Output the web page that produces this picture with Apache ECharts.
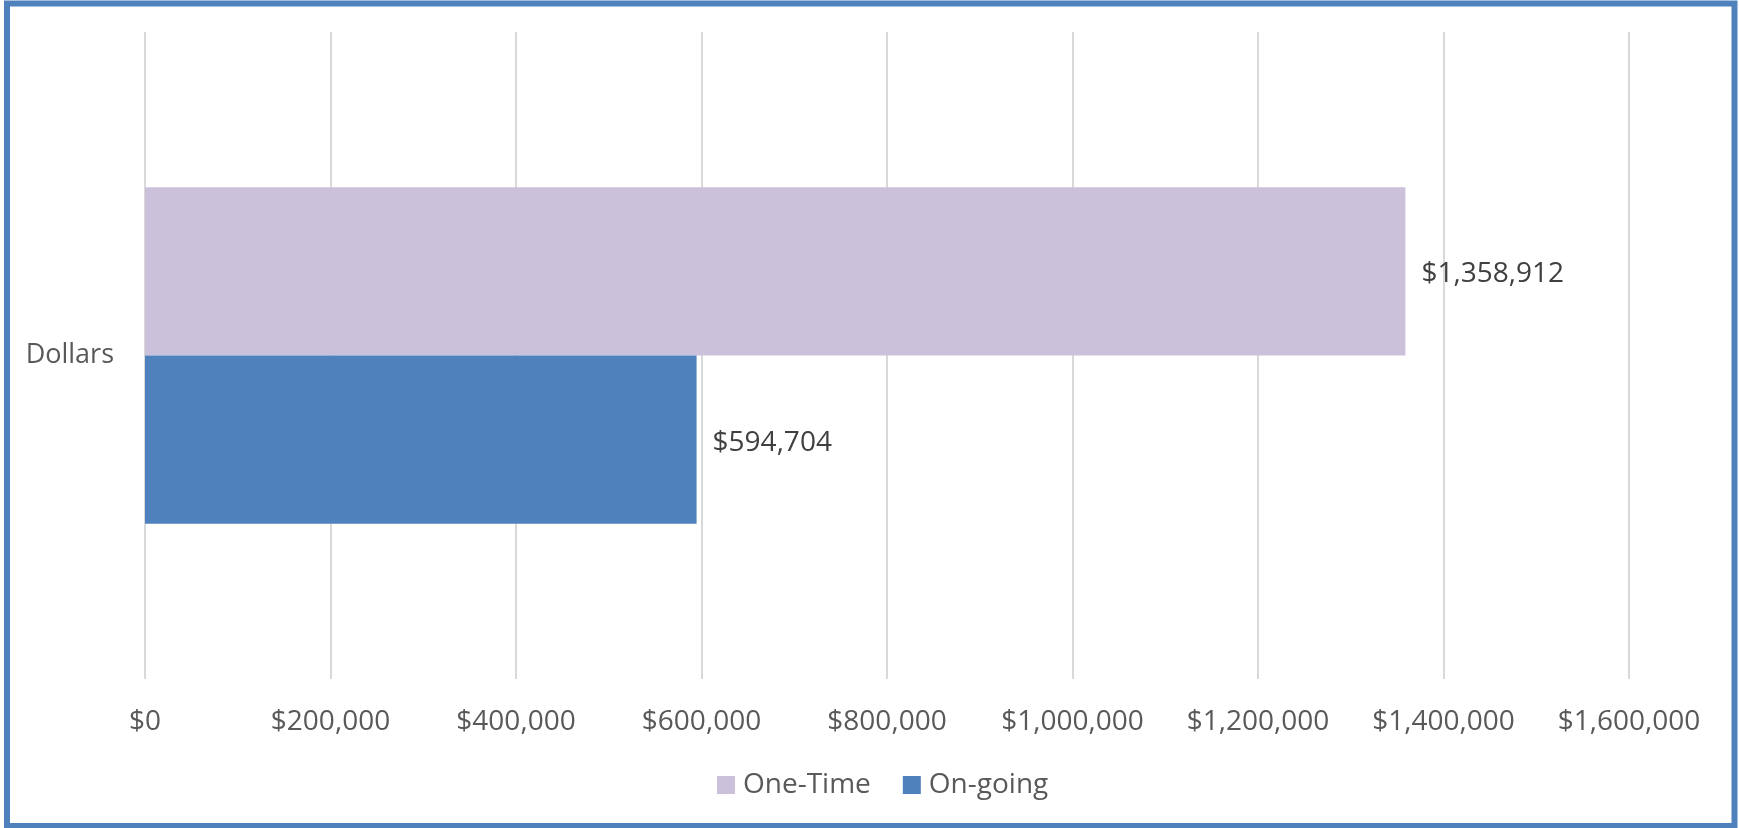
<!DOCTYPE html>
<html>
<head>
<meta charset="utf-8">
<style>
  html, body { margin: 0; padding: 0; background: #fff; }
  #main { width: 1739px; height: 828px; }
</style>
<script src="https://cdn.jsdelivr.net/npm/echarts@6/dist/echarts.min.js"></script>
</head>
<body>
<div id="main"></div>
<script>
var categories = ['Dollars'];
var oneTime = [1358912];
var onGoing = [594704];
var xTicks = { min: 0, max: 1600000, interval: 200000 };

var FONT = 'Open Sans';
var FS = 28;

function money(v) {
  return '$' + Number(v).toLocaleString('en-US');
}

var chart = echarts.init(document.getElementById('main'));
var option = {
  animation: false,
  backgroundColor: '#fff',
  graphic: [{
    type: 'rect',
    shape: { x: 7, y: 3.5, width: 1727.5, height: 822.5 },
    style: { fill: 'none', stroke: '#4F81BD', lineWidth: 6 },
    silent: true
  }],
  grid: { left: 145, right: 110, top: 32, bottom: 149, containLabel: false },
  legend: {
    data: ['One-Time', 'On-going'],
    left: 712,
    top: 766,
    itemWidth: 18,
    itemHeight: 18,
    itemGap: 32,
    icon: 'rect',
    textStyle: { color: '#595959', fontSize: FS, fontFamily: FONT, padding: [0, 0, 0, 3] }
  },
  xAxis: {
    type: 'value',
    min: xTicks.min,
    max: xTicks.max,
    interval: xTicks.interval,
    axisLine: { show: false },
    axisTick: { show: false },
    splitLine: { lineStyle: { color: '#D9D9D9', width: 2 } },
    axisLabel: {
      color: '#595959',
      fontSize: FS,
      fontFamily: FONT,
      margin: 29,
      formatter: money
    }
  },
  yAxis: {
    type: 'category',
    data: categories,
    axisLine: { show: false },
    axisTick: { show: false },
    axisLabel: { color: '#595959', fontSize: 27, fontFamily: FONT, margin: 31 }
  },
  series: [{
    name: 'One-Time',
    type: 'bar',
    data: oneTime,
    barGap: '0%',
    barCategoryGap: '48%',
    itemStyle: { color: '#CCC1DA' },
    label: {
      show: true, position: 'right', distance: 16, offset: [0, 3],
      color: '#404040', fontSize: FS, fontFamily: FONT,
      formatter: function (p) { return money(p.value); }
    }
  }, {
    name: 'On-going',
    type: 'bar',
    data: onGoing,
    barGap: '0%',
    barCategoryGap: '48%',
    itemStyle: { color: '#4F81BD' },
    label: {
      show: true, position: 'right', distance: 16, offset: [0, 3],
      color: '#404040', fontSize: FS, fontFamily: FONT,
      formatter: function (p) { return money(p.value); }
    }
  }]
};
chart.setOption(option);
</script>
</body>
</html>
